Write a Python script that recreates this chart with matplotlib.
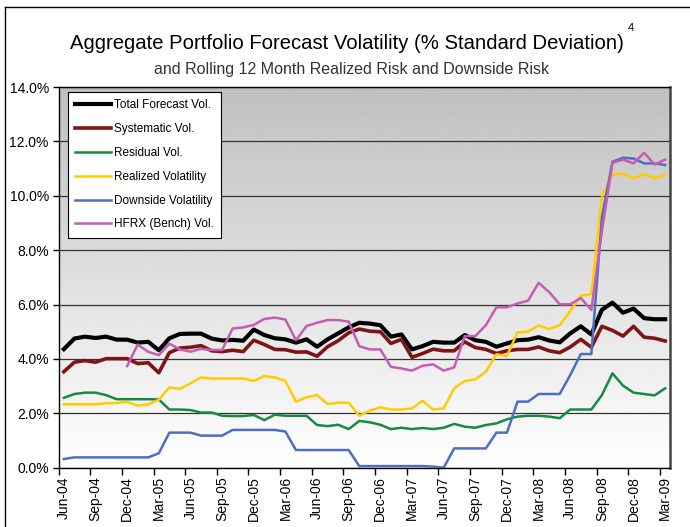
import matplotlib
matplotlib.use("Agg")
import matplotlib.pyplot as plt
from matplotlib.lines import Line2D
from matplotlib.ticker import FixedLocator, FuncFormatter
import numpy as np

"""
Data (% standard deviation), monthly Jun-04 .. Mar-09
"""
months = ['Jun-04', 'Jul-04', 'Aug-04', 'Sep-04', 'Oct-04', 'Nov-04', 'Dec-04', 'Jan-05', 'Feb-05',
          'Mar-05', 'Apr-05', 'May-05', 'Jun-05', 'Jul-05', 'Aug-05', 'Sep-05', 'Oct-05', 'Nov-05',
          'Dec-05', 'Jan-06', 'Feb-06', 'Mar-06', 'Apr-06', 'May-06', 'Jun-06', 'Jul-06', 'Aug-06',
          'Sep-06', 'Oct-06', 'Nov-06', 'Dec-06', 'Jan-07', 'Feb-07', 'Mar-07', 'Apr-07', 'May-07',
          'Jun-07', 'Jul-07', 'Aug-07', 'Sep-07', 'Oct-07', 'Nov-07', 'Dec-07', 'Jan-08', 'Feb-08',
          'Mar-08', 'Apr-08', 'May-08', 'Jun-08', 'Jul-08', 'Aug-08', 'Sep-08', 'Oct-08', 'Nov-08',
          'Dec-08', 'Jan-09', 'Feb-09', 'Mar-09']

total_vol = [4.36, 4.75, 4.82, 4.77, 4.82, 4.71, 4.71, 4.60, 4.63, 4.32, 4.76, 4.92, 4.93, 4.93, 4.75,
             4.68, 4.70, 4.67, 5.08, 4.88, 4.76, 4.72, 4.60, 4.72, 4.45, 4.72, 4.94, 5.16, 5.33, 5.30,
             5.24, 4.82, 4.90, 4.35, 4.47, 4.63, 4.60, 4.60, 4.88, 4.69, 4.63, 4.45, 4.57, 4.69, 4.71,
             4.80, 4.68, 4.61, 4.94, 5.20, 4.90, 5.81, 6.07, 5.70, 5.85, 5.50, 5.46, 5.46]

systematic_vol = [3.53, 3.88, 3.94, 3.88, 4.01, 4.01, 4.01, 3.83, 3.86, 3.49, 4.23, 4.40, 4.43, 4.49,
                  4.30, 4.27, 4.32, 4.27, 4.69, 4.53, 4.35, 4.34, 4.25, 4.26, 4.10, 4.45, 4.67, 4.96,
                  5.10, 5.02, 5.00, 4.57, 4.72, 4.06, 4.20, 4.36, 4.30, 4.30, 4.63, 4.42, 4.35, 4.20,
                  4.30, 4.35, 4.35, 4.44, 4.30, 4.23, 4.44, 4.72, 4.43, 5.20, 5.05, 4.84, 5.20, 4.80,
                  4.76, 4.66]

residual_vol = [2.57, 2.71, 2.76, 2.76, 2.67, 2.52, 2.52, 2.52, 2.52, 2.51, 2.14, 2.14, 2.12, 2.03,
                2.03, 1.91, 1.90, 1.90, 1.94, 1.75, 1.95, 1.91, 1.91, 1.91, 1.57, 1.53, 1.58, 1.42,
                1.72, 1.67, 1.58, 1.42, 1.47, 1.42, 1.46, 1.42, 1.47, 1.61, 1.51, 1.47, 1.57, 1.63,
                1.78, 1.88, 1.91, 1.91, 1.88, 1.82, 2.14, 2.14, 2.14, 2.67, 3.47, 3.02, 2.76, 2.71,
                2.66, 2.92]

realized_vol = [2.33, 2.33, 2.33, 2.33, 2.37, 2.38, 2.42, 2.28, 2.33, 2.50, 2.95, 2.90, 3.10, 3.32,
                3.28, 3.28, 3.28, 3.28, 3.19, 3.37, 3.32, 3.19, 2.43, 2.59, 2.67, 2.34, 2.39, 2.39,
                1.91, 2.10, 2.22, 2.14, 2.14, 2.18, 2.46, 2.14, 2.18, 2.92, 3.19, 3.25, 3.53, 4.17,
                4.11, 4.98, 5.00, 5.23, 5.10, 5.24, 5.76, 6.33, 6.38, 9.96, 10.78, 10.80, 10.64, 10.80,
                10.64, 10.76]

downside_vol = [0.32, 0.38, 0.38, 0.38, 0.38, 0.38, 0.38, 0.38, 0.38, 0.53, 1.29, 1.29, 1.29, 1.18,
                1.18, 1.18, 1.39, 1.39, 1.39, 1.39, 1.39, 1.33, 0.65, 0.65, 0.65, 0.65, 0.65, 0.65,
                0.06, 0.06, 0.06, 0.06, 0.06, 0.06, 0.06, 0.04, 0.00, 0.71, 0.71, 0.71, 0.71, 1.29,
                1.29, 2.43, 2.43, 2.71, 2.71, 2.71, 3.41, 4.18, 4.18, 9.20, 11.25, 11.40, 11.37, 11.19,
                11.19, 11.13]

# HFRX starts in Dec-04
hfrx_vol = [None, None, None, None, None, None, 3.74, 4.53, 4.26, 4.14, 4.56, 4.35, 4.27, 4.37,
            4.33, 4.33, 5.12, 5.16, 5.25, 5.47, 5.52, 5.45, 4.69, 5.21, 5.33, 5.43, 5.43, 5.37,
            4.47, 4.35, 4.35, 3.71, 3.65, 3.57, 3.75, 3.80, 3.57, 3.69, 4.84, 4.84, 5.24, 5.90,
            5.90, 6.04, 6.14, 6.80, 6.46, 6.01, 6.01, 6.24, 5.80, 8.70, 11.21, 11.33, 11.19, 11.58,
            11.15, 11.33]

series = [
    ('Total Forecast Vol.', total_vol, '#000000', 3.0),
    ('Systematic Vol.', systematic_vol, '#7d1416', 2.6),
    ('Residual Vol.', residual_vol, '#168a45', 1.8),
    ('Realized Volatility', realized_vol, '#ffcc00', 1.8),
    ('Downside Volatility', downside_vol, '#4e6fc1', 1.8),
    ('HFRX (Bench) Vol.', hfrx_vol, '#c45db4', 1.8),
]

FONT = ['Liberation Sans', 'DejaVu Sans']

fig = plt.figure(figsize=(6.9, 5.27), dpi=100)
ax = fig.add_axes([0.0849, 0.1125, 0.8868, 0.7224])

x = np.arange(len(months))

# grey (top) to white (bottom) background
grad = np.linspace(1.0, 0.75, 256).reshape(-1, 1)
ax.imshow(grad, extent=[-0.5, len(months) - 0.5, 0, 14], aspect='auto',
          cmap='gray', vmin=0, vmax=1, zorder=0, origin='lower')

for label, vals, color, lw in series:
    y = np.array([np.nan if v is None else v for v in vals], dtype=float)
    ax.plot(x, y, color=color, linewidth=lw, label=label, zorder=3)

ax.set_xlim(-0.5, len(months) - 0.5)
ax.set_ylim(0, 14)

# horizontal grid
ax.yaxis.set_major_locator(FixedLocator(np.arange(0, 14.1, 2)))
ax.yaxis.set_major_formatter(FuncFormatter(lambda v, p: f'{v:.1f}%'))
ax.yaxis.grid(True, color='#333333', linewidth=0.9)
for gl in ax.get_ygridlines():
    gl.set_zorder(1)

# category axis: labels at centres every 3 months, tick marks between categories
ax.set_xticks(x[::3])
ax.set_xticklabels(months[::3], rotation=90, fontfamily=FONT, fontsize=10)
ax.tick_params(axis='x', which='major', length=0, pad=6)
ax.set_xticks(np.arange(-0.5, len(months), 3), minor=True)
ax.tick_params(axis='x', which='minor', length=5, width=1, direction='out', color='black')
ax.tick_params(axis='y', length=4, width=1, direction='out', pad=3)
for t in ax.get_yticklabels():
    t.set_fontfamily(FONT)
    t.set_fontsize(10)

for s in ['left', 'bottom', 'top']:
    ax.spines[s].set_color('black')
    ax.spines[s].set_linewidth(1.0)
ax.spines['right'].set_color('#444444')
ax.spines['right'].set_linewidth(1.8)

leg = ax.legend(loc='upper left', bbox_to_anchor=(0.016, 0.986), borderaxespad=0,
                frameon=True, fancybox=False, edgecolor='black', framealpha=1,
                prop={'family': FONT, 'size': 8.5}, handlelength=3.0,
                handletextpad=0.25, labelspacing=1.0, borderpad=0.6)
leg.get_frame().set_linewidth(0.8)

# titles
fig.text(0.503, 0.918, 'Aggregate Portfolio Forecast Volatility (% Standard Deviation)',
         ha='center', va='center', fontsize=14.6, family=FONT, color='black')
fig.text(0.914, 0.947, '4', ha='center', va='center', fontsize=8, family=FONT)
fig.text(0.51, 0.869, 'and Rolling 12 Month Realized Risk and Downside Risk',
         ha='center', va='center', fontsize=11.5, family=FONT, color='#333333')

# outer chart frame (top and left edges visible)
fig.add_artist(Line2D([0.007, 1.0], [0.987, 0.987], color='black', linewidth=1.0,
                      transform=fig.transFigure))
fig.add_artist(Line2D([0.007, 0.007], [0.0, 0.987], color='black', linewidth=1.0,
                      transform=fig.transFigure))

fig.savefig('out.png', dpi=100)
